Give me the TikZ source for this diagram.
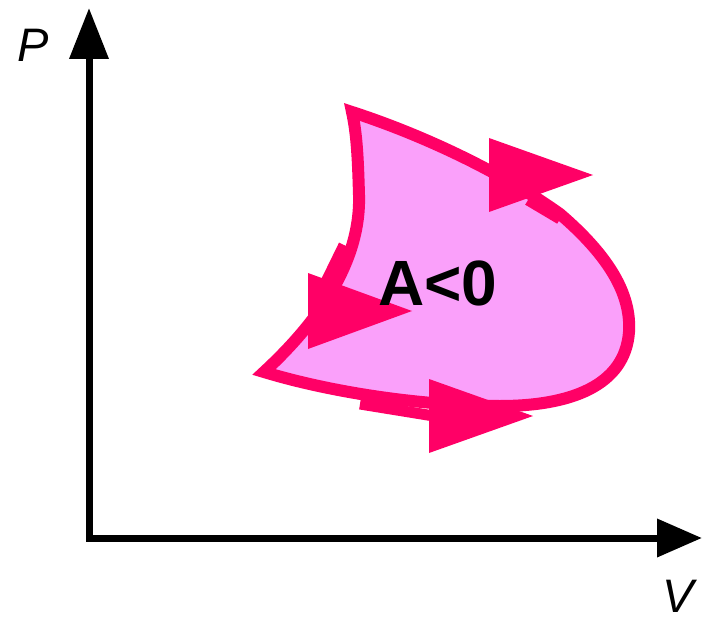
\documentclass[tikz,border=0pt]{standalone}
\usepackage{fontspec}
\setmainfont{Liberation Sans}
\usetikzlibrary{arrows.meta}
\definecolor{loopfill}{RGB}{250,160,250}
\definecolor{loopline}{RGB}{255,0,102}
\tikzset{
  axis/.style={line width=7pt, line join=miter},
  cycleline/.style={draw=loopline, fill=loopfill, line width=12pt, line join=miter, miter limit=20},
  shaft/.style={draw=loopline, line width=11pt},
  head/.style={fill=loopline},
  axislabel/.style={font=\fontsize{47}{50}\selectfont\itshape, inner sep=0pt},
  arealabel/.style={font=\fontsize{64}{66}\selectfont\bfseries, inner sep=0pt}
}
\begin{document}
\begin{tikzpicture}[x=1pt,y=-1pt]
\useasboundingbox (0,0) rectangle (702,623);
% axes
\coordinate (O) at (89,538);
\coordinate (Ptop) at (89,8);
\coordinate (Vend) at (702,538);
\draw[axis, {Triangle[width=38pt,length=51pt]}-{Triangle[width=37pt,length=45pt]}] (Ptop) -- (O) -- (Vend);
\node[axislabel, anchor=base west] (P) at (17,62) {P};
\node[axislabel, anchor=base west] (V) at (662,612) {V};
% cycle
\path[cycleline] (352,112)
  .. controls (420,134) and (500,171) .. (560,214)
  .. controls (616,262) and (631,300) .. (629,332)
  .. controls (625,386) and (570,406) .. (500,406)
  .. controls (420,406) and (330,392) .. (264,372)
  .. controls (318,322) and (361,262) .. (359,195)
  .. controls (358,160) and (357,135) .. (352,112) -- cycle;
% arrow shafts
\draw[shaft] (528,200) -- (560,219);
\draw[shaft] (344,245) -- (322,290);
\draw[shaft] (360,404) -- (440,417);
% arrow heads
\fill[head] (489,138) -- (593,175) -- (489,212) -- cycle;
\fill[head] (308,273) -- (412,311) -- (308,349) -- cycle;
\fill[head] (429,379) -- (533,416) -- (429,453) -- cycle;
% label
\node[arealabel, anchor=base] (A) at (438,305) {A<0};
\end{tikzpicture}
\end{document}
